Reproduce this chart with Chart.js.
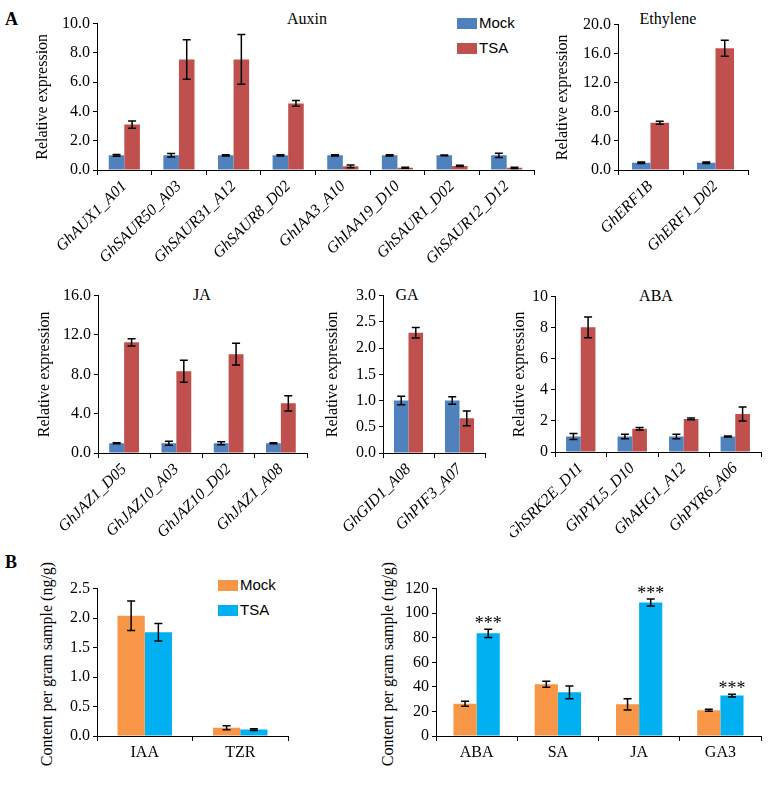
<!DOCTYPE html>
<html>
<head>
<meta charset="utf-8">
<script src="https://cdn.jsdelivr.net/npm/chart.js@4.4.0/dist/chart.umd.min.js"></script>
<style>
  body { margin: 0; background: #fff; width: 784px; height: 788px; position: relative; overflow: hidden; font-family: "Liberation Serif", "Times New Roman", serif; }
  canvas { position: absolute; }
  .t { position: absolute; font-size: 16px; color: #000; transform: translate(-50%, -50%); white-space: nowrap; }
  .vt { position: absolute; font-size: 16px; color: #000; transform: translate(-50%, -50%) rotate(-90deg); white-space: nowrap; }
  .letter { position: absolute; font-size: 18px; font-weight: bold; }
  .lg { position: absolute; font-family: "Liberation Sans", Arial, sans-serif; font-size: 15px; line-height: 15px; }
  .lg i { display: inline-block; width: 20px; height: 11px; vertical-align: -1px; margin-right: 2px; }
</style>
</head>
<body>
<div class="letter" style="left:5px;top:9px">A</div>
<div class="letter" style="left:5px;top:552px">B</div>
<div class="t" style="left:307px;top:19px">Auxin</div>
<div class="t" style="left:668px;top:19px">Ethylene</div>
<div class="t" style="left:202px;top:295px">JA</div>
<div class="t" style="left:407px;top:295px">GA</div>
<div class="t" style="left:656px;top:296px">ABA</div>
<div class="vt" style="left:47px;top:664px">Content per gram sample (ng/g)</div>
<div class="vt" style="left:388px;top:664px">Content per gram sample (ng/g)</div>
<div id="legendA"></div>
<div id="legendB"></div>

<script>
// ---- Panel A: relative expression, Mock vs TSA ----
const auxinGenes = ["GhAUX1_A01", "GhSAUR50_A03", "GhSAUR31_A12", "GhSAUR8_D02", "GhIAA3_A10", "GhIAA19_D10", "GhSAUR1_D02", "GhSAUR12_D12"];
const auxinMock = [1.0, 1.0, 1.0, 1.0, 1.0, 1.0, 1.0, 1.0];
const auxinMockErr = [0.06, 0.12, 0.05, 0.05, 0.04, 0.04, 0.03, 0.15];
const auxinTsa = [3.1, 7.55, 7.55, 4.55, 0.25, 0.15, 0.28, 0.15];
const auxinTsaErr = [0.25, 1.35, 1.7, 0.2, 0.1, 0.03, 0.04, 0.04];
const auxinTicks = [0, 2, 4, 6, 8, 10];

const ethGenes = ["GhERF1B", "GhERF1_D02"];
const ethMock = [1.0, 1.0];
const ethMockErr = [0.1, 0.1];
const ethTsa = [6.5, 16.75];
const ethTsaErr = [0.2, 1.1];
const ethTicks = [0, 4, 8, 12, 16, 20];

const jaGenes = ["GhJAZ1_D05", "GhJAZ10_A03", "GhJAZ10_D02", "GhJAZ1_A08"];
const jaMock = [1.0, 1.0, 1.0, 1.0];
const jaMockErr = [0.05, 0.2, 0.15, 0.05];
const jaTsa = [11.25, 8.3, 10.05, 5.05];
const jaTsaErr = [0.37, 1.12, 1.1, 0.78];
const jaTicks = [0, 4, 8, 12, 16];

const gaGenes = ["GhGID1_A08", "GhPIF3_A07"];
const gaMock = [1.0, 1.0];
const gaMockErr = [0.08, 0.07];
const gaTsa = [2.29, 0.66];
const gaTsaErr = [0.1, 0.14];
const gaTicks = [0, 0.5, 1.0, 1.5, 2.0, 2.5, 3.0];

const abaGenes = ["GhSRK2E_D11", "GhPYL5_D10", "GhAHG1_A12", "GhPYR6_A06"];
const abaMock = [1.0, 1.0, 1.0, 1.0];
const abaMockErr = [0.19, 0.15, 0.15, 0.03];
const abaTsa = [8.02, 1.49, 2.13, 2.45];
const abaTsaErr = [0.66, 0.08, 0.05, 0.45];
const abaTicks = [0, 2, 4, 6, 8, 10];

// ---- Panel B: hormone content (ng/g) ----
const hormA = ["IAA", "TZR"];
const hormAMock = [2.04, 0.14];
const hormAMockErr = [0.25, 0.035];
const hormATsa = [1.76, 0.11];
const hormATsaErr = [0.15, 0.015];
const hormATicks = [0, 0.5, 1.0, 1.5, 2.0, 2.5];

const hormB = ["ABA", "SA", "JA", "GA3"];
const hormBMock = [26.3, 42.1, 25.8, 20.9];
const hormBMockErr = [2.0, 2.4, 4.6, 0.8];
const hormBTsa = [83.6, 35.6, 108.6, 32.9];
const hormBTsaErr = [3.4, 5.2, 2.85, 1.1];
const hormBSig = ["***", "", "***", "***"];
const hormBTicks = [0, 20, 40, 60, 80, 100, 120];

const blueA = "#4F81BD", redA = "#C0504D";
const orangeB = "#F79646", cyanB = "#00B0F0";
const serif = '"Liberation Serif", "Times New Roman", serif';

// error bars (+ significance marks) drawn from the bar elements
const errorBars = {
  id: "errorBars",
  afterDatasetsDraw(chart) {
    const ctx = chart.ctx, y = chart.scales.y;
    chart.data.datasets.forEach((ds, di) => {
      if (!ds.errors) return;
      chart.getDatasetMeta(di).data.forEach((bar, i) => {
        const v = ds.data[i], e = ds.errors[i];
        const top = y.getPixelForValue(v + e), bot = y.getPixelForValue(v - e);
        ctx.save();
        ctx.strokeStyle = "#000";
        ctx.lineWidth = 1.5;
        ctx.beginPath();
        ctx.moveTo(bar.x, top); ctx.lineTo(bar.x, bot);
        ctx.moveTo(bar.x - 4, top); ctx.lineTo(bar.x + 4, top);
        ctx.moveTo(bar.x - 4, bot); ctx.lineTo(bar.x + 4, bot);
        ctx.stroke();
        if (ds.marks && ds.marks[i]) {
          ctx.fillStyle = "#000";
          ctx.font = "18px " + serif;
          ctx.textAlign = "center";
          ctx.textBaseline = "alphabetic";
          ctx.fillText(ds.marks[i], bar.x, top);
        }
        ctx.restore();
      });
    });
  }
};

function panel(box, labels, sets, ticks, dec, ytitle) {
  const padTop = 12, padRight = 8;
  const left = box.x0 - box.wy, top = box.yT - padTop;
  const cv = document.createElement("canvas");
  cv.width = box.x1 + padRight - left;
  cv.height = box.yB + box.hx - top;
  cv.style.left = left + "px";
  cv.style.top = top + "px";
  document.body.appendChild(cv);
  const rot = box.rot || 0;
  return new Chart(cv.getContext("2d"), {
    type: "bar",
    data: {
      labels: labels,
      datasets: sets.map(s => ({
        label: s.label, data: s.data, errors: s.err, marks: s.marks,
        backgroundColor: s.color, borderWidth: 0,
        barPercentage: 1, categoryPercentage: 0.57
      }))
    },
    options: {
      responsive: false, animation: false, devicePixelRatio: 1,
      layout: { padding: { top: padTop, right: padRight, left: 0, bottom: 0 } },
      plugins: { legend: { display: false }, tooltip: { enabled: false } },
      scales: {
        x: {
          grid: { display: true, drawOnChartArea: false, tickLength: 5, color: "#000", offset: true },
          border: { color: "#000", width: 1 },
          ticks: {
            color: "#000", autoSkip: false, minRotation: rot, maxRotation: rot, padding: 2,
            font: { family: serif, size: 16, style: rot ? "italic" : "normal" }
          },
          afterFit: s => { s.height = box.hx; s.paddingLeft = 0; s.paddingRight = 0; }
        },
        y: {
          min: ticks[0], max: ticks[ticks.length - 1],
          afterBuildTicks: s => { s.ticks = ticks.map(v => ({ value: v })); },
          grid: { drawOnChartArea: false, tickLength: 4, color: "#000" },
          border: { color: "#000", width: 1 },
          ticks: { color: "#000", padding: 3, font: { family: serif, size: 16 }, callback: v => v.toFixed(dec) },
          title: { display: !!ytitle, text: ytitle || "", color: "#000", padding: 0, font: { family: serif, size: 16, lineHeight: 1.2 } },
          afterFit: s => { s.width = box.wy; }
        }
      }
    },
    plugins: [errorBars]
  });
}

const relExp = "Relative expression";

panel({ x0: 97, x1: 534, yT: 23, yB: 170, wy: 64, hx: 100, rot: 45 }, auxinGenes,
  [{ label: "Mock", data: auxinMock, err: auxinMockErr, color: blueA },
   { label: "TSA", data: auxinTsa, err: auxinTsaErr, color: redA }], auxinTicks, 1, relExp);

panel({ x0: 618, x1: 748, yT: 24, yB: 170, wy: 65, hx: 100, rot: 45 }, ethGenes,
  [{ label: "Mock", data: ethMock, err: ethMockErr, color: blueA },
   { label: "TSA", data: ethTsa, err: ethTsaErr, color: redA }], ethTicks, 1, relExp);

panel({ x0: 98, x1: 307, yT: 295, yB: 453, wy: 63, hx: 90, rot: 45 }, jaGenes,
  [{ label: "Mock", data: jaMock, err: jaMockErr, color: blueA },
   { label: "TSA", data: jaTsa, err: jaTsaErr, color: redA }], jaTicks, 1, relExp);

panel({ x0: 383, x1: 485, yT: 295, yB: 453, wy: 60, hx: 90, rot: 45 }, gaGenes,
  [{ label: "Mock", data: gaMock, err: gaMockErr, color: blueA },
   { label: "TSA", data: gaTsa, err: gaTsaErr, color: redA }], gaTicks, 1, relExp);

panel({ x0: 555, x1: 761, yT: 296, yB: 452, wy: 45, hx: 90, rot: 45 }, abaGenes,
  [{ label: "Mock", data: abaMock, err: abaMockErr, color: blueA },
   { label: "TSA", data: abaTsa, err: abaTsaErr, color: redA }], abaTicks, 0, relExp);

// B panels: y titles are longer than the axis, so they sit in the page (see .vt divs)
panel({ x0: 97, x1: 288, yT: 588, yB: 736, wy: 60, hx: 30 }, hormA,
  [{ label: "Mock", data: hormAMock, err: hormAMockErr, color: orangeB },
   { label: "TSA", data: hormATsa, err: hormATsaErr, color: cyanB }], hormATicks, 1, null);

panel({ x0: 436, x1: 761, yT: 588, yB: 736, wy: 40, hx: 30 }, hormB,
  [{ label: "Mock", data: hormBMock, err: hormBMockErr, color: orangeB },
   { label: "TSA", data: hormBTsa, err: hormBTsaErr, color: cyanB, marks: hormBSig }], hormBTicks, 0, null);

// legends
function legend(id, x, ys, items) {
  const host = document.getElementById(id);
  items.forEach((it, i) => {
    const d = document.createElement("div");
    d.className = "lg";
    d.style.left = x + "px";
    d.style.top = ys[i] + "px";
    d.innerHTML = '<i style="background:' + it[1] + '"></i>' + it[0];
    host.appendChild(d);
  });
}
legend("legendA", 457, [15, 40], [["Mock", blueA], ["TSA", redA]]);
legend("legendB", 218, [577, 602], [["Mock", orangeB], ["TSA", cyanB]]);
</script>
</body>
</html>
